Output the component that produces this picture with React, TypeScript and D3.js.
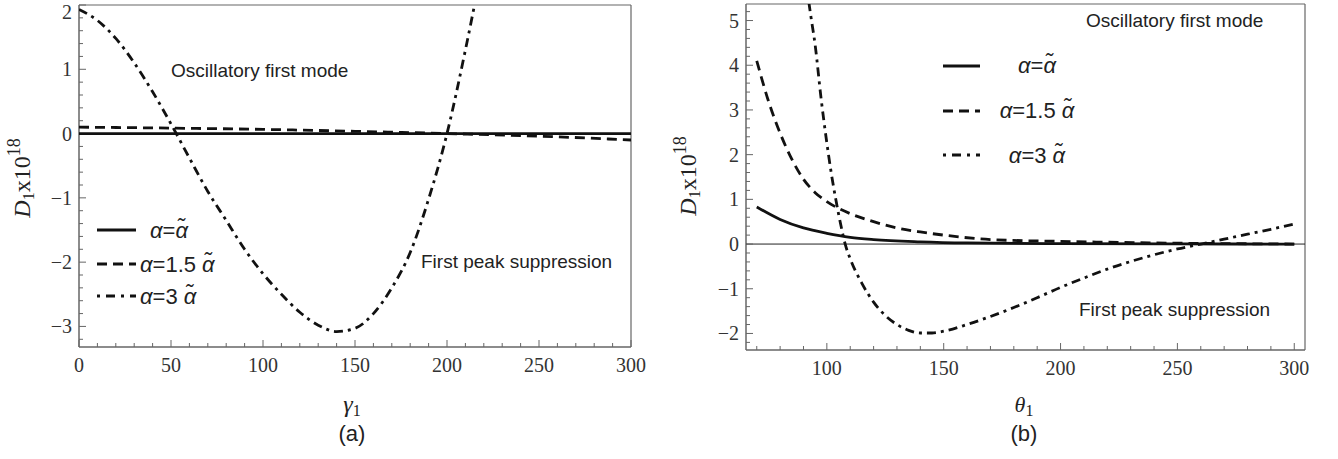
import React from 'react';
import * as d3 from 'd3';

// panel (a): D1 vs gamma1
const aLineX = [0, 50, 100, 150, 200, 250, 300];
const aSolid = [0, 0, 0, 0, 0, 0, 0];
const aDashed = [0.1, 0.085, 0.065, 0.035, 0.0, -0.04, -0.1];
const aDashDotX = [0, 10, 20, 30, 40, 50, 60, 70, 80, 90, 100, 110, 120, 130, 140, 150, 160, 170, 180, 190, 200, 210, 216];
const aDashDot = [1.93, 1.76, 1.48, 1.1, 0.65, 0.15, -0.38, -0.9, -1.35, -1.8, -2.18, -2.5, -2.78, -2.98, -3.08, -3.03, -2.8, -2.4, -1.85, -1.02, 0, 1.3, 2.15];
const aXTicks = [0, 50, 100, 150, 200, 250, 300];
const aYTicks = [-3, -2, -1, 0, 1, 2];

// panel (b): D1 vs theta1
const bSolidX = [70, 80, 90, 100, 110, 120, 140, 160, 200, 250, 300];
const bSolid = [0.83, 0.55, 0.36, 0.24, 0.15, 0.1, 0.05, 0.025, 0.01, 0.003, 0];
const bDashedX = [70, 75, 80, 85, 90, 95, 100, 110, 120, 130, 140, 150, 170, 200, 250, 300];
const bDashed = [4.1, 3.2, 2.48, 1.9, 1.45, 1.15, 0.95, 0.68, 0.5, 0.36, 0.27, 0.2, 0.1, 0.06, 0.02, 0.0];
const bDashDotX = [91, 93, 95, 97.5, 100, 102, 104, 106, 108, 110, 115, 120, 125, 130, 135, 140, 145, 150, 160, 170, 180, 190, 200, 210, 220, 230, 240, 250, 260, 270, 280, 290, 300];
const bDashDot = [5.9, 5.15, 4.45, 3.27, 2.26, 1.55, 0.95, 0.42, -0.03, -0.33, -0.88, -1.3, -1.6, -1.8, -1.93, -1.99, -1.99, -1.95, -1.8, -1.62, -1.42, -1.2, -0.97, -0.76, -0.56, -0.39, -0.24, -0.11, 0.0, 0.11, 0.22, 0.33, 0.45];
const bXTicks = [100, 150, 200, 250, 300];
const bYTicks = [-2, -1, 0, 1, 2, 3, 4, 5];

const serif = '"Liberation Serif", "DejaVu Serif", serif';
const sans = '"Liberation Sans", Arial, sans-serif';
const axisColor = '#666';
const DASH = '10,6';
const DASHDOT = '9,5,3,5';

type Series = { xs: number[]; ys: number[]; dash?: string };

interface PanelProps {
  id: string;
  left: number; right: number; top: number; bottom: number;
  xDomain: [number, number]; yDomain: [number, number];
  xTicks: number[]; yTicks: number[];
  series: Series[];
  zeroLine?: boolean;
}

const fmt = (v: number) => (v < 0 ? '\u2212' + Math.abs(v) : String(v));

const Panel: React.FC<PanelProps> = ({ id, left, right, top, bottom, xDomain, yDomain, xTicks, yTicks, series, zeroLine }) => {
  const x = d3.scaleLinear().domain(xDomain).range([left, right]);
  const y = d3.scaleLinear().domain(yDomain).range([bottom, top]);
  const line = d3.line<[number, number]>()
    .x(d => x(d[0]))
    .y(d => y(d[1]))
    .curve(d3.curveMonotoneX);

  const xMinor = d3.range(Math.ceil(xDomain[0] / 10) * 10, xDomain[1] + 0.001, 10);
  const yMinor = d3.range(Math.ceil(yDomain[0] / 0.2) * 0.2, yDomain[1] + 0.001, 0.2);

  return (
    <g>
      <defs>
        <clipPath id={id}>
          <rect x={left} y={top} width={right - left} height={bottom - top} />
        </clipPath>
      </defs>
      {/* frame */}
      <line x1={left} x2={right} y1={top} y2={top} stroke={axisColor} strokeWidth={1.2} />
      <line x1={right} x2={right} y1={top} y2={bottom} stroke={axisColor} strokeWidth={1.2} />
      <line x1={left} x2={right} y1={bottom} y2={bottom} stroke={axisColor} strokeWidth={1.5} />
      <line x1={left} x2={left} y1={top} y2={bottom} stroke={axisColor} strokeWidth={1.5} />
      {zeroLine && <line x1={left} x2={right} y1={y(0)} y2={y(0)} stroke="#222" strokeWidth={1} />}

      {xMinor.map(v => (
        <line key={'xm' + v} x1={x(v)} x2={x(v)} y1={bottom} y2={bottom - (v % 50 === 0 ? 7 : 4)} stroke={axisColor} strokeWidth={1} />
      ))}
      {yMinor.map((v, i) => {
        const major = Math.abs(v - Math.round(v)) < 1e-6;
        return <line key={'ym' + i} x1={left} x2={left + (major ? 7 : 4)} y1={y(v)} y2={y(v)} stroke={axisColor} strokeWidth={1} />;
      })}
      {xTicks.map(v => (
        <text key={'xt' + v} x={x(v)} y={bottom + 25} textAnchor="middle" fontFamily={serif} fontSize={20} fill="#333">{v}</text>
      ))}
      {yTicks.map(v => (
        <text key={'yt' + v} x={left - 7} y={Math.max(y(v), 12)} dy="0.35em" textAnchor="end" fontFamily={serif} fontSize={20} fill="#333">{fmt(v)}</text>
      ))}

      <g clipPath={`url(#${id})`}>
        {series.map((s, i) => (
          <path key={i} d={line(s.xs.map((xv, j) => [xv, s.ys[j]] as [number, number])) || ''}
            fill="none" stroke="#111" strokeWidth={2.8} strokeDasharray={s.dash} />
        ))}
      </g>
    </g>
  );
};

const Alpha: React.FC<{ coef: string }> = ({ coef }) => (
  <>
    <tspan fontStyle="italic">α</tspan>
    <tspan>={coef}</tspan>
    <tspan fontStyle="italic">α̃</tspan>
  </>
);

const YLabel: React.FC<{ cx: number; cy: number }> = ({ cx, cy }) => (
  <text transform={`translate(${cx},${cy}) rotate(-90)`} textAnchor="middle" fontFamily={serif} fontSize={24} fill="#222">
    <tspan fontStyle="italic">D</tspan>
    <tspan fontSize={16} dy={4}>1</tspan>
    <tspan dy={-4}>x10</tspan>
    <tspan fontSize={18} dy={-10}>18</tspan>
  </text>
);

export default function App() {
  return (
    <svg width={1338} height={459} style={{ position: 'absolute', left: 0, top: 0, background: '#fff' }}>
      <Panel id="clipA" left={79} right={631} top={5} bottom={347}
        xDomain={[0, 300]} yDomain={[-3.32, 2]} xTicks={aXTicks} yTicks={aYTicks}
        series={[
          { xs: aLineX, ys: aSolid },
          { xs: aLineX, ys: aDashed, dash: DASH },
          { xs: aDashDotX, ys: aDashDot, dash: DASHDOT },
        ]} />
      <Panel id="clipB" left={746} right={1305} top={4} bottom={350}
        xDomain={[65.4, 304.6]} yDomain={[-2.37, 5.37]} xTicks={bXTicks} yTicks={bYTicks}
        zeroLine
        series={[
          { xs: bSolidX, ys: bSolid },
          { xs: bDashedX, ys: bDashed, dash: DASH },
          { xs: bDashDotX, ys: bDashDot, dash: DASHDOT },
        ]} />

      {/* annotations */}
      <g fontFamily={sans} fontSize={19} fill="#222">
        <text x={171} y={77}>Oscillatory first mode</text>
        <text x={421} y={268}>First peak suppression</text>
        <text x={1086} y={27}>Oscillatory first mode</text>
        <text x={1079} y={316}>First peak suppression</text>
      </g>

      {/* legends */}
      <g stroke="#111" strokeWidth={2.8}>
        <line x1={97} x2={136} y1={230} y2={230} />
        <line x1={97} x2={136} y1={264} y2={264} strokeDasharray={DASH} />
        <line x1={97} x2={136} y1={296} y2={296} strokeDasharray="3,6,9,6" />
        <line x1={943} x2={980} y1={66} y2={66} />
        <line x1={943} x2={980} y1={111} y2={111} strokeDasharray={DASH} />
        <line x1={943} x2={980} y1={155} y2={155} strokeDasharray="3,6,9,6" />
      </g>
      <g fontFamily={sans} fontSize={22} fill="#222">
        <text x={150} y={238}><Alpha coef="" /></text>
        <text x={140} y={272}><Alpha coef="1.5 " /></text>
        <text x={140} y={304}><Alpha coef="3 " /></text>
        <text x={1037} y={73} textAnchor="middle"><Alpha coef="" /></text>
        <text x={1037} y={118} textAnchor="middle"><Alpha coef="1.5 " /></text>
        <text x={1037} y={163} textAnchor="middle"><Alpha coef="3 " /></text>
      </g>

      <YLabel cx={30} cy={178} />
      <YLabel cx={696} cy={176} />

      {/* x labels */}
      <text x={352} y={412} textAnchor="middle" fontFamily={serif} fontSize={24} fill="#222">
        <tspan fontStyle="italic">γ</tspan><tspan fontSize={16} dy={4}>1</tspan>
      </text>
      <text x={1024} y={412} textAnchor="middle" fontFamily={serif} fontSize={22} fill="#222">
        <tspan fontStyle="italic">θ</tspan><tspan fontSize={16} dy={4}>1</tspan>
      </text>
      <text x={352} y={441} textAnchor="middle" fontFamily={sans} fontSize={22} fill="#222">(a)</text>
      <text x={1024} y={441} textAnchor="middle" fontFamily={sans} fontSize={22} fill="#222">(b)</text>
    </svg>
  );
}
